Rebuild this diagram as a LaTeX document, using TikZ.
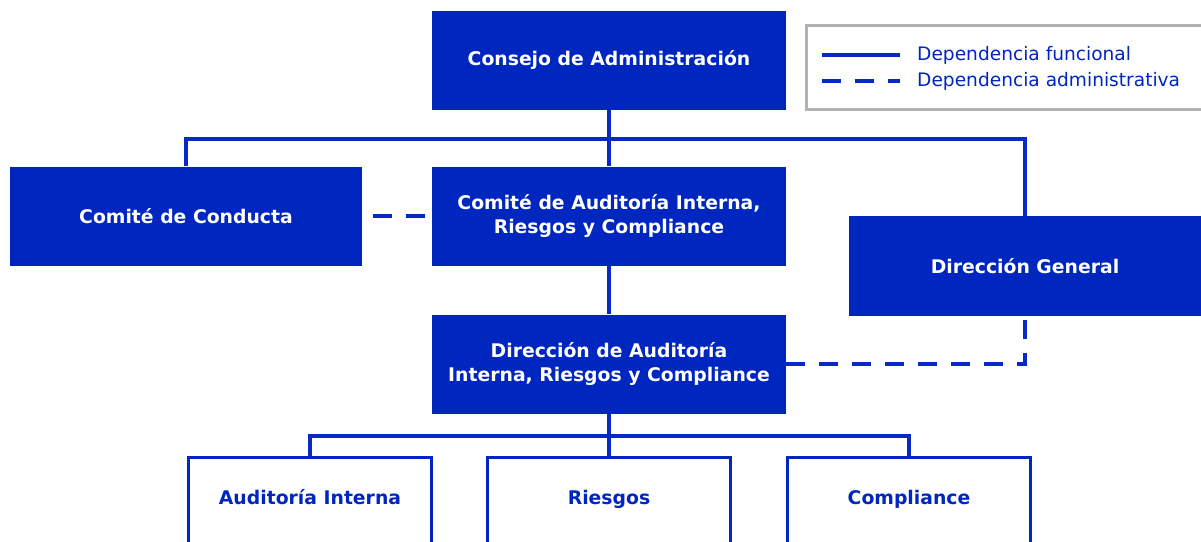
\documentclass[tikz,border=0pt]{standalone}
\usepackage{fontspec}
\setmainfont{DejaVu Sans}
\definecolor{orgblue}{RGB}{0,38,192}
\definecolor{lineblue}{RGB}{8,40,200}

\begin{document}
\begin{tikzpicture}[x=1pt,y=-1pt,
  organo/.style={fill=orgblue, text=white, font=\bfseries\fontsize{18.8}{24}\selectfont,
    align=center, minimum width=354pt, minimum height=99pt, inner sep=0pt},
  unidad/.style={draw=orgblue, line width=3.5pt, fill=white, text=orgblue,
    font=\bfseries\fontsize{18.8}{24}\selectfont, text height=14pt, text depth=20pt,
    minimum width=243pt, minimum height=100pt, inner sep=0pt},
  funcional/.style={draw=lineblue, line width=3.8pt},
  administrativa/.style={funcional, dash pattern=on 19pt off 14pt},
  leyendatexto/.style={text=orgblue, font=\fontsize{18.6}{24}\selectfont, inner sep=0pt, anchor=west}]
  % page
  \clip (0,0) rectangle (1201,541);
  \fill[white] (0,0) rectangle (1201,541);

  % governing bodies
  \node[organo] (consejo)  at (609,60)    {Consejo de Administración};
  \node[organo, minimum width=352pt] (conducta) at (186,216) {Comité de Conducta};
  \node[organo] (comite)   at (609,216)   {Comité de Auditoría Interna,\\Riesgos y Compliance};
  \node[organo, minimum width=352pt, minimum height=100pt] (general) at (1025,266) {Dirección General};
  \node[organo] (direccion) at (609,364)  {Dirección de Auditoría\\Interna, Riesgos y Compliance};

  % units under the direction (cut by the page bottom)
  \node[unidad] (auditoria)  at (310,507.5) {Auditoría Interna};
  \node[unidad] (riesgos)    at (609,507.5) {Riesgos};
  \node[unidad] (compliance) at (909,507.5) {Compliance};

  % functional dependence
  \coordinate (bus) at (609,139);
  \coordinate (reparto) at (609,436);
  \draw[funcional] (consejo.south) -- (comite.north);
  \draw[funcional] (conducta.north) |- (bus) -| (general.north);
  \draw[funcional] (comite.south) -- (direccion.north);
  \draw[funcional] (direccion.south) -- (reparto);
  \draw[funcional] (auditoria.north) |- (reparto) -| (compliance.north);
  \draw[funcional] (reparto) -- (riesgos.north);

  % administrative dependence
  \draw[administrativa, dash phase=22pt] (conducta.east) -- (comite.west);
  \draw[administrativa] (direccion.east) -| (general.south);

  % legend
  \node[draw=gray!60, line width=3pt, fill=white,
    minimum width=420pt, minimum height=84pt] (leyenda) at (1016,67) {};
  \node[leyendatexto] (funtxt) at (917,55) {Dependencia funcional};
  \node[leyendatexto] (admtxt) at (917,81) {Dependencia administrativa};
  \draw[funcional] ([xshift=-95pt]funtxt.west) -- ([xshift=-17pt]funtxt.west);
  \draw[administrativa] ([xshift=-95pt]admtxt.west) -- ([xshift=-17pt]admtxt.west);
\end{tikzpicture}
\end{document}
